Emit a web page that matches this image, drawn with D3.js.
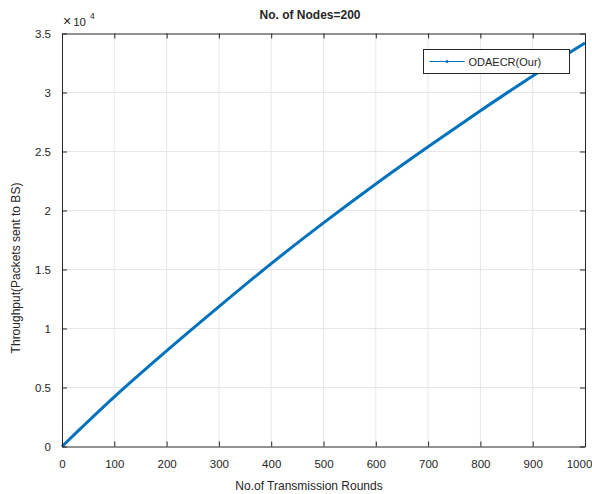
<!DOCTYPE html>
<html>
<head>
<meta charset="utf-8">
<script src="https://cdn.jsdelivr.net/npm/d3@7"></script>
<style>
  body { margin: 0; background: #fff; }
  text { font-family: "Liberation Sans", Arial, sans-serif; fill: #262626; }
</style>
</head>
<body>
<script>
// data
const rounds = [0, 100, 200, 300, 400, 500, 600, 700, 800, 900, 1000];
const throughput = [0, 4200, 8100, 11850, 15500, 18950, 22250, 25400, 28450, 31400, 34200];
const xTicks = [0, 100, 200, 300, 400, 500, 600, 700, 800, 900, 1000];
const yTicks = [0, 0.5, 1, 1.5, 2, 2.5, 3, 3.5];
const seriesName = 'ODAECR(Our)';

const W = 592, H = 494;
const margin = { top: 33.5, right: 7, bottom: 47.5, left: 62 };
const width = W - margin.left - margin.right;
const height = H - margin.top - margin.bottom;

const svg = d3.select('body').append('svg')
  .attr('width', W)
  .attr('height', H);

const g = svg.append('g')
  .attr('transform', `translate(${margin.left}, ${margin.top})`);

const x = d3.scaleLinear().domain([0, 1000]).range([0, width]);
const y = d3.scaleLinear().domain([0, 3.5]).range([height, 0]);

// grid
g.append('g').selectAll('line')
  .data(xTicks.slice(1, -1))
  .enter().append('line')
  .attr('x1', d => x(d)).attr('x2', d => x(d))
  .attr('y1', 0).attr('y2', height)
  .attr('stroke', '#e6e6e6');

g.append('g').selectAll('line')
  .data(yTicks.slice(1, -1))
  .enter().append('line')
  .attr('y1', d => y(d)).attr('y2', d => y(d))
  .attr('x1', 0).attr('x2', width)
  .attr('stroke', '#e6e6e6');

// data line
const line = d3.line()
  .x((d, i) => x(rounds[i]))
  .y(d => y(d / 1e4))
  .curve(d3.curveMonotoneX);

g.append('path')
  .datum(throughput)
  .attr('fill', 'none')
  .attr('stroke', '#0072BD')
  .attr('stroke-width', 3)
  .attr('d', line);

// axes
const xAxis = d3.axisBottom(x).tickValues(xTicks).tickSize(-5).tickPadding(13).tickSizeOuter(0)
  .tickFormat(d3.format('d'));
const yAxis = d3.axisLeft(y).tickValues(yTicks).tickSize(-5).tickPadding(11).tickSizeOuter(0)
  .tickFormat(d3.format('~g'));

const gx = g.append('g')
  .attr('transform', `translate(0,${height})`)
  .call(xAxis);
g.append('g').call(yAxis);

// last label sits at the figure edge, nudge it in a little
gx.selectAll('.tick text').filter(d => d === 1000).attr('dx', -6);

g.append('g').call(d3.axisTop(x).tickValues(xTicks).tickSize(-5).tickFormat('').tickSizeOuter(0));
g.append('g').attr('transform', `translate(${width},0)`)
  .call(d3.axisRight(y).tickValues(yTicks).tickSize(-5).tickFormat('').tickSizeOuter(0));

g.selectAll('.domain').attr('stroke', '#262626');
g.selectAll('.tick line').attr('stroke', '#262626');
g.selectAll('.tick text').style('font-size', '11.5px').attr('fill', '#262626');

// exponent
const ex = svg.append('text')
  .attr('x', 63)
  .attr('y', 25.5)
  .style('font-size', '11.5px');
ex.append('tspan').style('font-size', '14px').text('\u00d7');
ex.append('tspan').attr('dx', 2).text('10');
ex.append('tspan').attr('dx', 4).attr('dy', -7).style('font-size', '8.5px').text('4');

// title and labels
svg.append('text')
  .attr('x', 310)
  .attr('y', 19)
  .attr('text-anchor', 'middle')
  .style('font-size', '12px')
  .style('font-weight', 'bold')
  .attr('fill', '#000')
  .text('No. of Nodes=200');

svg.append('text')
  .attr('x', 309)
  .attr('y', 490)
  .attr('text-anchor', 'middle')
  .style('font-size', '12px')
  .text('No.of Transmission Rounds');

svg.append('text')
  .attr('transform', 'translate(20, 268) rotate(-90)')
  .attr('text-anchor', 'middle')
  .style('font-size', '12px')
  .text('Throughput(Packets sent to BS)');

// legend
const lg = svg.append('g').attr('transform', 'translate(423.5, 49.5)');
lg.append('rect')
  .attr('width', 146).attr('height', 24)
  .attr('fill', '#fff').attr('stroke', '#262626');
lg.append('line')
  .attr('x1', 6).attr('x2', 41).attr('y1', 12).attr('y2', 12)
  .attr('stroke', '#0072BD');
lg.append('circle')
  .attr('cx', 23.5).attr('cy', 12).attr('r', 1.5)
  .attr('fill', '#0072BD');
lg.append('text')
  .attr('x', 45).attr('y', 16)
  .style('font-size', '11px')
  .attr('fill', '#000')
  .text(seriesName);
</script>
</body>
</html>
